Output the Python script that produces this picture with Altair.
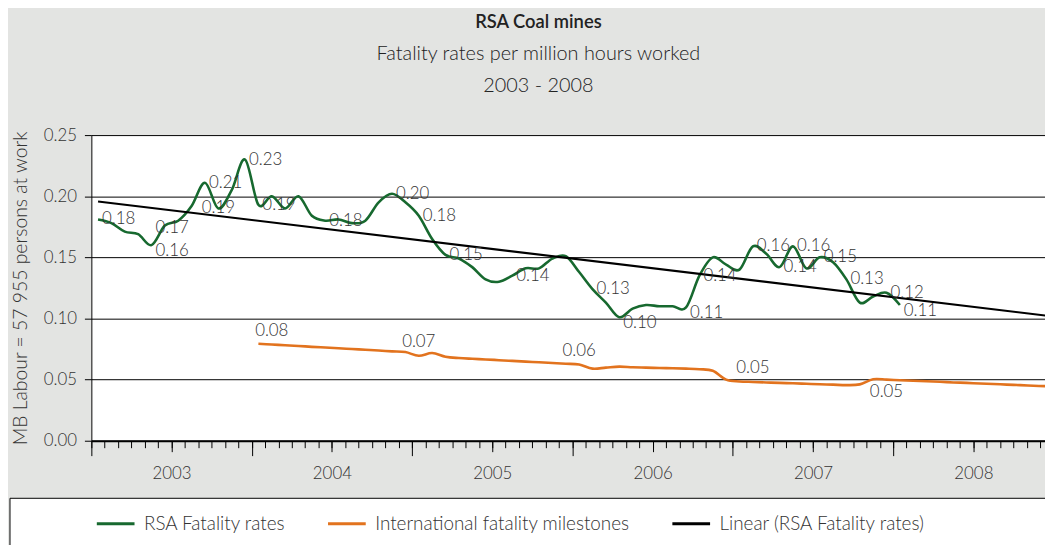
import altair as alt
import pandas as pd

# ---------------- data ----------------
# RSA fatality rates, monthly from Jan 2003 (index 0) to Jan 2008 (index 60)
green = [0.181, 0.178, 0.171, 0.169, 0.160, 0.176, 0.180, 0.192, 0.211, 0.190,
         0.205, 0.230, 0.193, 0.200, 0.190, 0.200, 0.184, 0.180, 0.181, 0.178,
         0.180, 0.195, 0.202, 0.195, 0.184, 0.165, 0.152, 0.149, 0.142, 0.132,
         0.130, 0.135, 0.141, 0.141, 0.149, 0.151, 0.138, 0.124, 0.113, 0.101,
         0.108, 0.111, 0.110, 0.110, 0.109, 0.135, 0.150, 0.144, 0.140, 0.159,
         0.153, 0.142, 0.159, 0.141, 0.150, 0.146, 0.132, 0.113, 0.118, 0.121,
         0.111]
# International fatality milestones, monthly from Jan 2004 (index 12) to Dec 2008
orange_start = 12
orange = [0.0793, 0.0787, 0.0781, 0.0775, 0.0768, 0.0762, 0.0756, 0.0750, 0.0744, 0.0738,
          0.0731, 0.0725, 0.0695, 0.0717, 0.0687, 0.0676, 0.0670, 0.0665, 0.0659, 0.0653,
          0.0647, 0.0642, 0.0636, 0.0630, 0.0623, 0.0590, 0.0598, 0.0606, 0.0601, 0.0598,
          0.0595, 0.0593, 0.0590, 0.0585, 0.0572, 0.0500, 0.0485, 0.0481, 0.0477, 0.0473,
          0.0470, 0.0466, 0.0462, 0.0459, 0.0455, 0.0461, 0.0503, 0.0500, 0.0495, 0.0491,
          0.0486, 0.0482, 0.0477, 0.0473, 0.0468, 0.0464, 0.0459, 0.0455, 0.0450, 0.0446]

years = ["2003", "2004", "2005", "2006", "2007", "2008"]
series_names = ["RSA Fatality rates", "International fatality milestones",
                "Linear (RSA Fatality rates)"]
series_colors = ["#17692f", "#e2731e", "#000000"]

# data labels (month index -> shown text)
green_label_idx = [0, 8, 11, 12, 17, 22, 24, 26, 31, 37, 45, 49, 51, 52, 54, 56, 59]
green_label_txt = ["0.18", "0.21", "0.23", "0.19", "0.18", "0.20", "0.18", "0.15", "0.14", "0.13",
                   "0.14", "0.16", "0.14", "0.16", "0.15", "0.13", "0.12"]
green_upper_idx = [4]
green_upper_txt = ["0.17"]
green_lower_idx = [4, 39, 44, 60]
green_lower_txt = ["0.16", "0.10", "0.11", "0.11"]
green_center_idx = [9]
green_center_txt = ["0.19"]
orange_above_idx = [13, 24, 36, 49]
orange_above_txt = ["0.08", "0.07", "0.06", "0.05"]
orange_below_idx = [59]
orange_below_txt = ["0.05"]

y_ticks = [0.0, 0.05, 0.1, 0.15, 0.2, 0.25]

# ---------------- tables ----------------
gdf = pd.DataFrame({"pos": [i + 0.5 for i in range(len(green))], "value": green,
                    "series": series_names[0]})
odf = pd.DataFrame({"pos": [orange_start + i + 0.5 for i in range(len(orange))], "value": orange,
                    "series": series_names[1]})


def green_labels(idx, txt):
    return pd.DataFrame({"pos": [i + 0.5 for i in idx], "value": [green[i] for i in idx],
                         "label": txt})


def orange_labels(idx, txt):
    return pd.DataFrame({"pos": [i + 0.5 for i in idx],
                         "value": [orange[i - orange_start] for i in idx], "label": txt})


FONT = "Lato"
TXT = "#333333"
X_MAX = 71.36  # the picture is cut just before the end of 2008

xscale = alt.Scale(domain=[0, X_MAX], nice=False, zero=False)
yscale = alt.Scale(domain=[0, 0.25], nice=False)
yaxis = alt.Axis(values=y_ticks, format=".2f", grid=True, gridColor="#000000", gridWidth=1,
                 domainColor="#000000", tickColor="#000000", tickSize=7, labelFontSize=17,
                 labelFont=FONT, labelFontWeight=300, labelColor=TXT, labelPadding=8,
                 title="MB Labour = 57 955 persons at work", titleFont=FONT,
                 titleFontSize=19.5, titleFontWeight=300, titleColor=TXT, titlePadding=13)
y_enc = alt.Y("value:Q", scale=yscale, axis=yaxis)

color_enc = alt.Color("series:N", scale=alt.Scale(domain=series_names, range=series_colors),
                      legend=alt.Legend(title=None, orient="none", legendX=4, legendY=371,
                                        direction="horizontal", symbolType="stroke",
                                        symbolSize=1444, symbolStrokeWidth=3,
                                        labelFontSize=19, labelFont=FONT, labelColor=TXT,
                                        labelFontWeight=300, labelLimit=400,
                                        labelOffset=8, columnPadding=36, padding=0))

year_expr = "[" + ",".join("'%s'" % y for y in years) + "][floor(datum.value / 12)]"

axis_minor = alt.Axis(values=list(range(72)), tickSize=7, labels=False, grid=False,
                      domain=True, domainColor="#000000", domainWidth=2,
                      tickColor="#000000", title=None, orient="bottom")
axis_years = alt.Axis(values=[6, 18, 30, 42, 54, 66], tickSize=11, labelExpr=year_expr,
                      domain=False, grid=False, labelFontSize=17, labelFont=FONT,
                      labelFontWeight=300, labelColor=TXT, labelPadding=14,
                      tickColor="#000000", title=None, orient="bottom")
axis_major = alt.Axis(values=[0, 12, 24, 36, 48, 60], tickSize=15, labels=False,
                      domain=False, grid=False, tickColor="#000000", title=None,
                      orient="bottom")

legend_box = alt.Chart(pd.DataFrame({"k": [0]})).mark_rect(
    fill="white", stroke="#000000", strokeWidth=1
).encode(x=alt.value(-82), x2=alt.value(980), y=alt.value(366), y2=alt.value(430))

green_line = alt.Chart(gdf).mark_line(interpolate="cardinal", strokeWidth=2.6, clip=True).encode(
    x=alt.X("pos:Q", scale=xscale, axis=axis_minor), y=y_enc, color=color_enc)

orange_line = alt.Chart(odf).mark_line(interpolate="cardinal", strokeWidth=2.6, clip=True).encode(
    x=alt.X("pos:Q", scale=xscale, axis=axis_years), y=y_enc, color=color_enc)

trend = alt.Chart(gdf).transform_regression(
    "pos", "value", extent=[0.5, 72]
).transform_calculate(series="'" + series_names[2] + "'").mark_line(
    strokeWidth=2.2, clip=True).encode(
    x=alt.X("pos:Q", scale=xscale, axis=axis_major), y=y_enc, color=color_enc)


def labels(df, **kw):
    return alt.Chart(df).mark_text(fontSize=17, font=FONT, fontWeight=300, color=TXT, **kw).encode(
        x=alt.X("pos:Q", scale=xscale, axis=None), y=y_enc, text="label:N")


g_labels = labels(green_labels(green_label_idx, green_label_txt), align="left", baseline="middle", dx=4)
gu_labels = labels(green_labels(green_upper_idx, green_upper_txt), align="left", baseline="middle",
                   dx=4, dy=-17)
gl_labels = labels(green_labels(green_lower_idx, green_lower_txt), align="left", baseline="middle",
                   dx=4, dy=6)
gc_labels = labels(green_labels(green_center_idx, green_center_txt), align="center", baseline="middle")
oa_labels = labels(orange_labels(orange_above_idx, orange_above_txt), align="center",
                   baseline="middle", dy=-14)
ob_labels = labels(orange_labels(orange_below_idx, orange_below_txt), align="center",
                   baseline="middle", dy=13)

chart = alt.layer(
    legend_box, green_line, orange_line, trend,
    g_labels, gu_labels, gl_labels, gc_labels, oa_labels, ob_labels
).resolve_scale(x="independent").resolve_axis(x="independent").properties(
    width=961, height=308,
    autosize=alt.AutoSizeParams(type="none"),
    padding={"left": 84, "top": 126, "right": 0, "bottom": 103},
    title=alt.TitleParams(
        text="RSA Coal mines",
        subtitle=["Fatality rates per million hours worked", "2003 - 2008"],
        anchor="middle", font=FONT, fontSize=18.5, fontWeight=600, color="#222222",
        subtitleFont=FONT, subtitleFontSize=20, subtitleFontWeight=300, subtitleColor="#222222",
        subtitlePadding=12, subtitleLineHeight=33, offset=30, dx=-30)
).configure(background="#e3e4e2").configure_view(fill="white", strokeWidth=0)

chart.save("out.html", embed_options={"renderer": "svg", "actions": False})
